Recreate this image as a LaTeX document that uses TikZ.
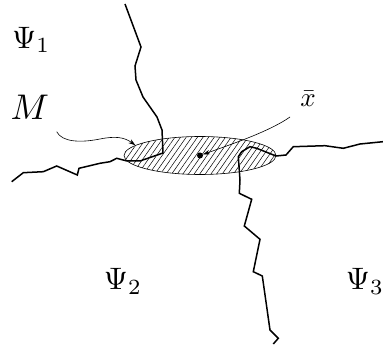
\documentclass[tikz,border=0pt]{standalone}
\usepackage{amsmath}
\usetikzlibrary{arrows.meta,calc,patterns.meta,shapes.geometric}

\begin{document}
\begin{tikzpicture}[x=1pt, y=-1pt]
	\tikzstyle{crack}=[line width=1.5pt, line join=miter]
	\tikzstyle{pointer}=[line width=0.6pt, -{Stealth[length=7pt, width=4.5pt]}]
	\tikzstyle{lbl}=[inner sep=0pt, anchor=base west, scale=3.1]

	\useasboundingbox (0,0) rectangle (383,347);

	\node (zone) [ellipse, draw, line width=0.6pt, inner sep=0pt, minimum width=152pt, minimum height=38pt,
		pattern={Lines[angle=55, distance=4.6pt, line width=0.5pt]}] at (200,155.5) {};

	% cracks
	\draw [crack] (11.7,181.7) -- (23.3,172.7) -- (43.3,171.7) -- (56.7,166) -- (77.3,175) -- (79,168.3)
		-- (100,163.3) -- (110,161.7) -- (116.7,158.3) -- (127,161) -- (140,161) -- (163,153)
		-- (162,130) -- (157,117) -- (143,97) -- (136,80) -- (135,66) -- (141,47) -- (125,4);
	\draw [crack] (383,141.7) -- (360,144) -- (343.3,148.3) -- (325,145.7) -- (293.3,146.7) -- (286,155)
		-- (276,156) -- (256.7,148.3) -- (250,146.7) -- (241.7,151.7) -- (238.3,156.7) -- (240,180)
		-- (239.3,193.3) -- (251.7,199.3) -- (244.3,226) -- (260,239.3) -- (253.3,271.7) -- (262.3,276)
		-- (270,330) -- (278.3,338.3) -- (273.3,344);

	\node (xbar) [circle, fill, inner sep=0pt, minimum size=6pt] at (zone.center) {};

	\node (Psi1) [lbl] at (11.6,48.3) {$\Psi_1$};
	\node (Psi2) [lbl] at (103.3,290) {$\Psi_2$};
	\node (Psi3) [lbl] at (345.3,290) {$\Psi_3$};
	\node (M) [lbl, scale=1.15] at (10,120) {$M$};
	\node (xlbl) [inner sep=0pt, anchor=base, scale=2.7] at (308,107) {$\bar{x}$};

	\coordinate (mtail) at (56.7,131.7);
	\coordinate (xtail) at (290,117);

	\draw [pointer] (mtail) .. controls (62,142) and (80,143) .. (100,139) .. controls (115,136) and (124,137) .. (zone.171);
	\draw [pointer] (xtail) .. controls (270,131) and (235,143) .. (xbar);
\end{tikzpicture}
\end{document}
